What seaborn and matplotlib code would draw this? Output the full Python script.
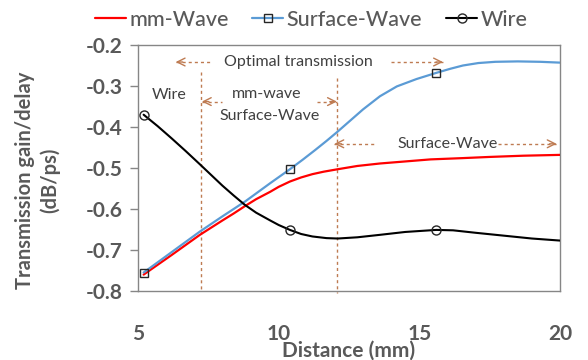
import matplotlib
matplotlib.use("Agg")
import matplotlib.pyplot as plt
import seaborn as sns
import pandas as pd

# ---- data ----
mm_x = [5.2, 6.2, 7.2, 8.0, 8.4, 8.8, 9.2, 9.7, 10.0, 10.4, 10.8, 11.2, 11.6, 12.1,
        12.8, 13.6, 14.5, 15.4, 16.5, 17.5, 18.7, 20.0]
mm_y = [-0.760, -0.712, -0.663, -0.628, -0.611, -0.593, -0.576, -0.558, -0.546, -0.533,
        -0.523, -0.515, -0.509, -0.503, -0.495, -0.489, -0.484, -0.479, -0.476, -0.473,
        -0.470, -0.468]

sw_x = [5.2, 6.2, 7.2, 8.0, 8.8, 9.7, 10.4, 10.85, 11.3, 11.7, 12.1, 12.55, 13.0, 13.6,
        14.2, 14.9, 15.6, 16.1, 16.55, 17.1, 17.7, 18.5, 19.3, 20.0]
sw_y = [-0.755, -0.705, -0.655, -0.618, -0.582, -0.537, -0.503, -0.480, -0.456, -0.434,
        -0.411, -0.384, -0.357, -0.325, -0.301, -0.283, -0.268, -0.258, -0.250, -0.244,
        -0.241, -0.240, -0.241, -0.243]

wire_x = [5.2, 5.7, 6.2, 6.7, 7.2, 7.6, 8.0, 8.4, 8.8, 9.2, 9.7, 10.0, 10.4, 10.8, 11.2,
          11.7, 12.1, 12.8, 13.6, 14.5, 15.6, 16.2, 17.0, 18.0, 19.0, 20.0]
wire_y = [-0.370, -0.398, -0.428, -0.459, -0.491, -0.517, -0.543, -0.567, -0.590, -0.609,
          -0.628, -0.639, -0.651, -0.661, -0.667, -0.671, -0.672, -0.669, -0.663, -0.656,
          -0.651, -0.652, -0.658, -0.665, -0.672, -0.677]

marker_x = [5.2, 10.4, 15.6]

x_ticks = [5, 10, 15, 20]
y_ticks = [-0.8, -0.7, -0.6, -0.5, -0.4, -0.3, -0.2]
y_ticklabels = ["-0.8", "-0.7", "-0.6", "-0.5", "-0.4", "-0.3", "-0.2"]

series_names = ["mm-Wave", "Surface-Wave", "Wire"]

# ---- styling ----
sns.set_theme(style="white")
plt.rcParams["font.family"] = ["Lato", "DejaVu Sans"]

GRAY = "#595959"
ANN = "#BE7B52"
TXT = "#404040"

fig = plt.figure(figsize=(5.88, 3.6), dpi=100)
ax = fig.add_axes([138 / 588, 1 - 291 / 360, (560 - 138) / 588, (291 - 45) / 360])


def mark_idx(xs):
    return [xs.index(m) for m in marker_x]


df_mm = pd.DataFrame({"x": mm_x, "y": mm_y})
df_sw = pd.DataFrame({"x": sw_x, "y": sw_y})
df_wi = pd.DataFrame({"x": wire_x, "y": wire_y})

sns.lineplot(data=df_mm, x="x", y="y", ax=ax, color="#FF0000", lw=1.6,
             label=series_names[0], zorder=3)
sns.lineplot(data=df_sw, x="x", y="y", ax=ax, color="#5B9BD5", lw=1.6,
             marker="s", markevery=mark_idx(sw_x), ms=6.3, mfc="none",
             mec="#262626", mew=1.0, label=series_names[1], zorder=4)
sns.lineplot(data=df_wi, x="x", y="y", ax=ax, color="black", lw=1.5,
             marker="o", markevery=mark_idx(wire_x), ms=6.5, mfc="none",
             mec="#262626", mew=1.0, label=series_names[2], zorder=4)

ax.set_xlim(5, 20)
ax.set_ylim(-0.8, -0.2)
ax.set_xticks(x_ticks)
ax.set_xticklabels([str(v) for v in x_ticks])
ax.set_yticks(y_ticks)
ax.set_yticklabels(y_ticklabels)
ax.set_xlabel("")
ax.set_ylabel("")

for s in ax.spines.values():
    s.set_color("#868686")
    s.set_linewidth(1.0)

ax.tick_params(axis="y", which="both", left=True, length=6, width=1.0,
               color="#868686", pad=5, labelsize=15, labelcolor=GRAY)
ax.tick_params(axis="x", which="both", bottom=False, pad=18,
               labelsize=15, labelcolor=GRAY)
for lab in ax.get_xticklabels() + ax.get_yticklabels():
    lab.set_fontweight("bold")

fig.text(37.5 / 588, 1 - 180 / 360, "Transmission gain/delay\n(dB/ps)",
         rotation=90, ha="center", va="center", fontsize=14.5,
         color=GRAY, fontweight="bold", linespacing=1.3,
         multialignment="center")
fig.text(349 / 588, 1 - 351 / 360, "Distance (mm)", ha="center",
         va="center", fontsize=15, color=GRAY, fontweight="bold")

# ---- annotations ----
dash = (0, (2.2, 2.2))
ann_kw = dict(color=ANN, lw=1.0, ls=dash)


def hline(x0, x1, y):
    ax.plot([x0, x1], [y, y], **ann_kw, zorder=2)


def head(x, y, direction):
    dx = 0.25 * direction
    ax.annotate("", xy=(x, y), xytext=(x - dx, y),
                arrowprops=dict(arrowstyle="->", color=ANN, lw=1.0,
                                mutation_scale=14, shrinkA=0, shrinkB=0),
                zorder=2)


# vertical dashed guides
ax.plot([7.23, 7.23], [-0.266, -0.8], **ann_kw, zorder=2)
ax.plot([12.08, 12.08], [-0.280, -0.806], **ann_kw, zorder=2, clip_on=False)

# Optimal transmission
yo = -0.2415
hline(6.34, 7.6, yo)
head(6.34, yo, -1)
hline(14.0, 15.84, yo)
head(15.84, yo, 1)
ax.text(10.7, yo, "Optimal transmission", ha="center", va="center",
        fontsize=11.5, color=TXT)

# mm-wave / Surface-Wave region
ym = -0.338
hline(7.27, 7.99, ym)
head(7.27, ym, -1)
hline(11.38, 12.07, ym)
head(12.07, ym, 1)
ax.text(9.56, -0.320, "mm-wave", ha="center", va="center",
        fontsize=11.5, color=TXT)
ax.text(9.67, -0.373, "Surface-Wave", ha="center", va="center",
        fontsize=11.5, color=TXT)

# Wire region
ax.text(6.12, -0.322, "Wire", ha="center", va="center",
        fontsize=11.5, color=TXT)

# Surface-Wave region
ys = -0.441
hline(11.98, 13.41, ys)
head(11.98, ys, -1)
hline(17.79, 19.88, ys)
head(19.88, ys, 1)
ax.text(15.99, ys, "Surface-Wave", ha="center", va="center",
        fontsize=11.5, color=TXT)

# ---- legend ----
leg = ax.legend(loc="center", bbox_to_anchor=(311 / 588, 1 - 20 / 360),
                bbox_transform=fig.transFigure, ncol=3, frameon=False,
                fontsize=15.5, handlelength=1.45, handletextpad=0.15,
                columnspacing=1.1, borderaxespad=0, borderpad=0)
for t in leg.get_texts():
    t.set_color(GRAY)
    t.set_fontweight("medium")

fig.savefig("out.png", dpi=100)
